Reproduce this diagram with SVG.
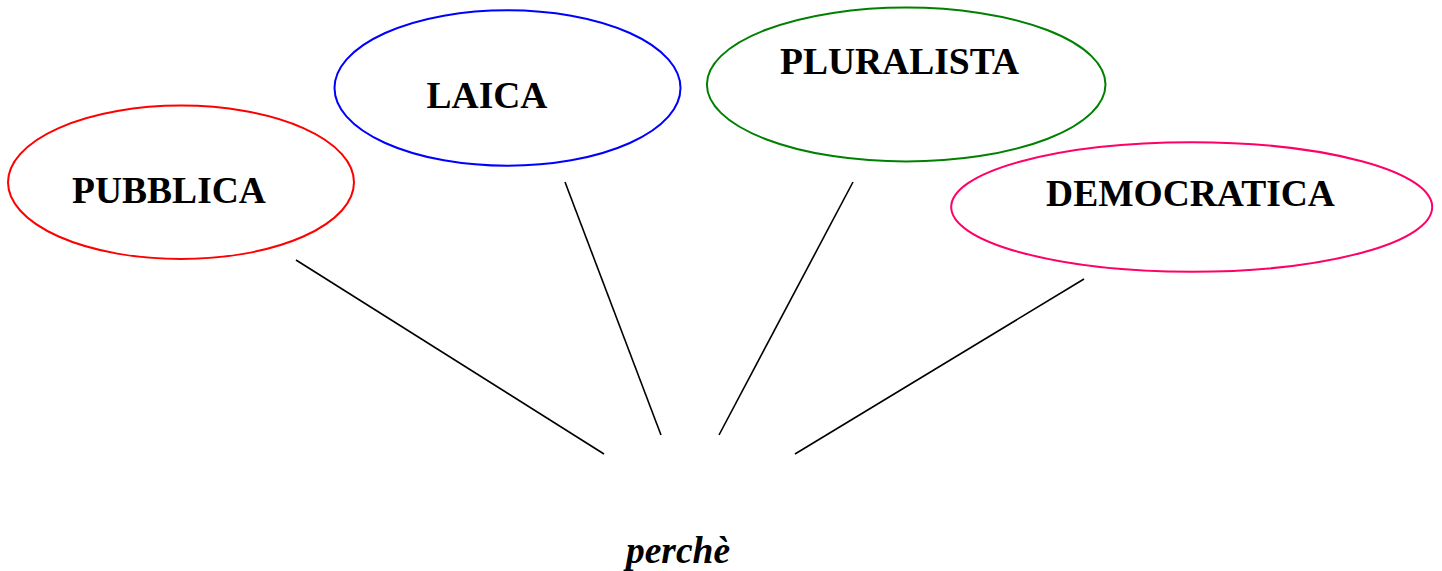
<svg xmlns="http://www.w3.org/2000/svg" width="1442" height="571" viewBox="0 0 1442 571">
<style>
.n{fill:none;stroke-width:2}
.t{font-family:"Liberation Serif","Times New Roman",serif;font-weight:bold;font-size:37.5px;fill:#000;text-anchor:middle}
.c line{stroke:#000;stroke-width:1.6}
</style>
<rect width="1442" height="571" fill="#fff"/>
<g class="c" id="connectors">
<line x1="296" y1="260" x2="604" y2="454"/>
<line x1="565" y1="182" x2="661" y2="435"/>
<line x1="853" y1="182" x2="719" y2="435"/>
<line x1="1084" y1="279" x2="795" y2="454"/>
</g>
<g id="pubblica">
<ellipse class="n" cx="181" cy="182.3" rx="173" ry="76.7" stroke="#FF0000"/>
<text class="t" x="169" y="203">PUBBLICA</text>
</g>
<g id="laica">
<ellipse class="n" cx="507.5" cy="88" rx="173" ry="77.8" stroke="#0000FF"/>
<text class="t" x="487" y="108">LAICA</text>
</g>
<g id="pluralista">
<ellipse class="n" cx="906.2" cy="84.5" rx="199.3" ry="77" stroke="#008000"/>
<text class="t" x="899.5" y="74">PLURALISTA</text>
</g>
<g id="democratica">
<ellipse class="n" cx="1191.7" cy="207" rx="240.5" ry="64.7" stroke="#FF0066"/>
<text class="t" x="1190.5" y="205.5">DEMOCRATICA</text>
</g>
<g id="perche">
<text x="678" y="563" font-family="'Liberation Serif','Times New Roman',serif" font-weight="bold" font-style="italic" font-size="37.5" text-anchor="middle">perchè</text>
</g>
</svg>
